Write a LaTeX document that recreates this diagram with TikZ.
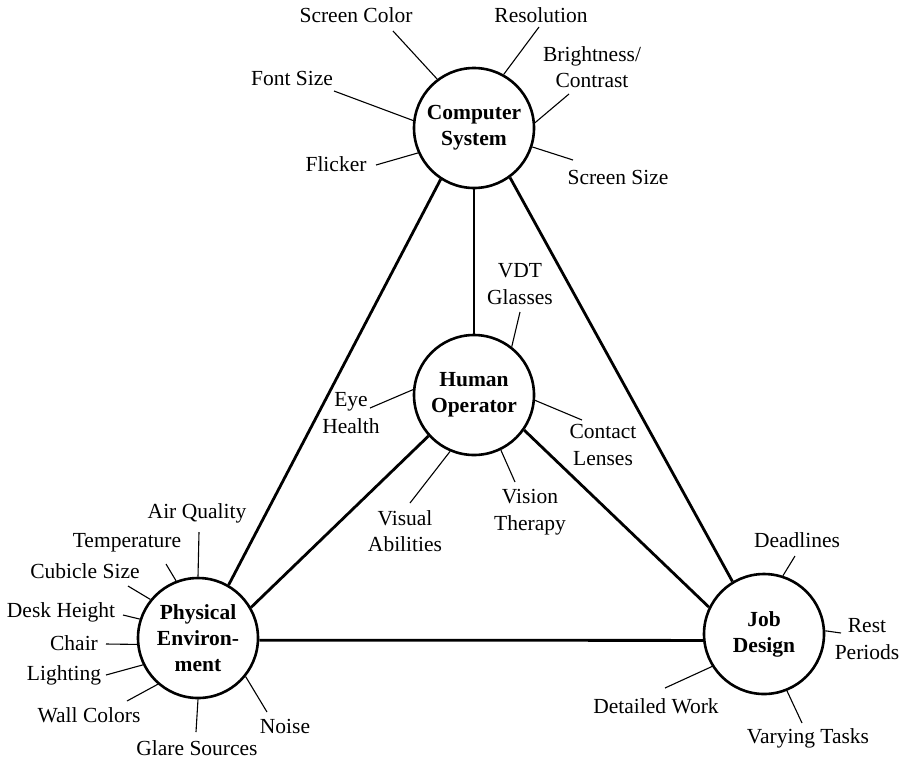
\documentclass[tikz,border=0pt]{standalone}
\usepackage{fontspec}
\setmainfont{Liberation Serif}
\begin{document}
\begin{tikzpicture}[x=1pt,y=-1pt,
  hub/.style={circle,draw,line width=2.6pt,minimum size=120pt,inner sep=0pt,
    align=center,font=\fontsize{21.5}{26}\selectfont\bfseries},
  lab/.style={inner sep=0pt,align=center,font=\fontsize{21.5}{26.5}\selectfont},
  main/.style={line width=2.8pt},
  spoke/.style={line width=1.1pt}]
\useasboundingbox (0,0) rectangle (909,761);
% hubs
\node[hub] (CS) at (474,128) {Computer\\System};
\node[hub] (HO) at (474,395) {Human\\Operator};
\node[hub] (PE) at (198,638) {Physical\\Environ-\\ment};
\node[hub] (JD) at (764,634) {Job\\Design};
% main connectors
\draw[main] (CS.-90) -- (HO.90);
\draw[main] (CS.-123) -- (PE.60);
\draw[main] (CS.-54) -- (JD.121);
\draw[main] (HO.-138) -- (PE.30);
\draw[main] (HO.-35) -- (JD.154);
\draw[main] (PE.-2) -- (JD.-174);
% labels: computer system
\node[lab] (lsc) at (356,15) {Screen Color};
\node[lab] (lres) at (541,15) {Resolution};
\node[lab] (lbri) at (592,67) {Brightness/\\Contrast};
\node[lab] (lfs) at (292,78) {Font Size};
\node[lab] (lfl) at (336,164) {Flicker};
\node[lab] (lss) at (618,177) {Screen Size};
% labels: human operator
\node[lab] (lvdt) at (520,284) {VDT\\Glasses};
\node[lab] (leye) at (351,413) {Eye\\Health};
\node[lab] (lcon) at (603,445) {Contact\\Lenses};
\node[lab] (lvis) at (405,531) {Visual\\Abilities};
\node[lab] (lvth) at (530,512) {Vision\\Therapy};
% labels: physical environment
\node[lab] (laq) at (197,513) {Air Quality};
\node[lab] (ltmp) at (127,543) {Temperature};
\node[lab] (lcub) at (85,571) {Cubicle Size};
\node[lab] (ldh) at (61,612) {Desk Height};
\node[lab] (lch) at (74,643) {Chair};
\node[lab] (lli) at (64,675) {Lighting};
\node[lab] (lwc) at (89,715) {Wall Colors};
\node[lab] (lgl) at (197,748) {Glare Sources};
\node[lab] (lno) at (285,726) {Noise};
% labels: job design
\node[lab] (ldl) at (797,540) {Deadlines};
\node[lab] (lrp) at (867,639) {Rest\\Periods};
\node[lab] (ldw) at (656,706) {Detailed Work};
\node[lab] (lvt) at (808,738) {Varying Tasks};
% free ends of spokes
\coordinate (sc) at (393,31);
\coordinate (res) at (539,27);
\coordinate (bri) at (569,94);
\coordinate (fs) at (334,91);
\coordinate (fl) at (376,165);
\coordinate (ss) at (573,160);
\coordinate (vdt) at (520,312);
\coordinate (eye) at (370,408);
\coordinate (con) at (582,420);
\coordinate (vis) at (410,503);
\coordinate (vth) at (515,482);
\coordinate (aq) at (199,532);
\coordinate (tmp) at (166,564);
\coordinate (cub) at (128,586);
\coordinate (dh) at (123,615);
\coordinate (ch) at (106,644);
\coordinate (li) at (106,675);
\coordinate (wc) at (127,701);
\coordinate (gl) at (196,732);
\coordinate (no) at (267,712);
\coordinate (dl) at (795,556);
\coordinate (rp) at (841,633);
\coordinate (dw) at (665,688);
\coordinate (vt) at (802,723);
% spokes
\draw[spoke] (CS.127) -- (sc);
\draw[spoke] (CS.61) -- (res);
\draw[spoke] (CS.5) -- (bri);
\draw[spoke] (CS.173) -- (fs);
\draw[spoke] (CS.-156) -- (fl);
\draw[spoke] (CS.-18) -- (ss);
\draw[spoke] (HO.52) -- (vdt);
\draw[spoke] (HO.175) -- (eye);
\draw[spoke] (HO.-5) -- (con);
\draw[spoke] (HO.-113) -- (vis);
\draw[spoke] (HO.-64) -- (vth);
\draw[spoke] (PE.90) -- (aq);
\draw[spoke] (PE.111) -- (tmp);
\draw[spoke] (PE.141) -- (cub);
\draw[spoke] (PE.162) -- (dh);
\draw[spoke] (PE.-174) -- (ch);
\draw[spoke] (PE.-154) -- (li);
\draw[spoke] (PE.-131) -- (wc);
\draw[spoke] (PE.-90) -- (gl);
\draw[spoke] (PE.-39) -- (no);
\draw[spoke] (JD.72) -- (dl);
\draw[spoke] (JD.3) -- (rp);
\draw[spoke] (JD.-148) -- (dw);
\draw[spoke] (JD.-68) -- (vt);
\end{tikzpicture}
\end{document}
